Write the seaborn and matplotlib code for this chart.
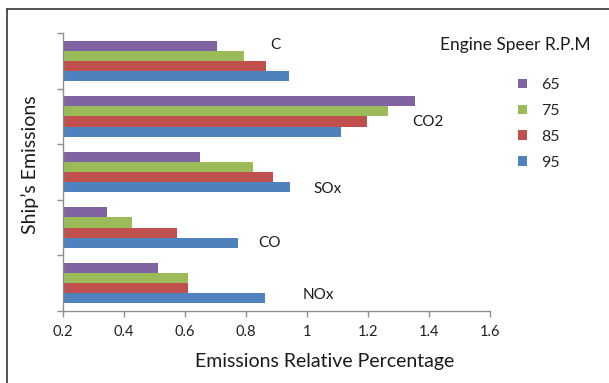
import matplotlib
matplotlib.use("Agg")
import matplotlib.pyplot as plt
import seaborn as sns
import pandas as pd
from matplotlib.patches import Patch
from matplotlib.lines import Line2D

categories = ["C", "CO2", "SOx", "CO", "NOx"]
rpm_labels = ["65", "75", "85", "95"]
rpm65 = [0.707, 1.354, 0.649, 0.346, 0.513]
rpm75 = [0.793, 1.267, 0.825, 0.428, 0.611]
rpm85 = [0.866, 1.197, 0.890, 0.576, 0.611]
rpm95 = [0.940, 1.112, 0.946, 0.773, 0.863]
colors = ["#8064A2", "#9BBB59", "#C0504D", "#4F81BD"]
xticks = [0.2, 0.4, 0.6, 0.8, 1.0, 1.2, 1.4, 1.6]
xtick_labels = ["0.2", "0.4", "0.6", "0.8", "1", "1.2", "1.4", "1.6"]
# label positions (data coords) for category annotations
label_x = [0.896, 1.397, 1.068, 0.879, 1.037]
label_dy = [-0.28, 0.1, 0.3, 0.28, 0.22]

rows = []
for r, vals in zip(rpm_labels, [rpm65, rpm75, rpm85, rpm95]):
    for c, v in zip(categories, vals):
        rows.append({"Emission": c, "RPM": r, "Value": v})
df = pd.DataFrame(rows)

sns.set_style("white")
plt.rcParams["font.family"] = ["Lato", "DejaVu Sans"]

fig = plt.figure(figsize=(6.09, 3.83), dpi=100)
ax = fig.add_axes([62.7 / 609, 1 - 311 / 383, (490 - 62.7) / 609, (311 - 33) / 383])

sns.barplot(data=df, y="Emission", x="Value", hue="RPM", order=categories,
            hue_order=rpm_labels, palette=colors, orient="h", width=0.73,
            ax=ax, legend=False, saturation=1, linewidth=0)

ax.set_xlim(0.2, 1.6)
ax.set_ylim(4.5, -0.5)
ax.set_xticks(xticks)
ax.set_xticklabels(xtick_labels, fontsize=10.5, color="#222222")
ax.set_yticks([-0.5, 0.5, 1.5, 2.5, 3.5, 4.5])
ax.set_yticklabels([])
ax.tick_params(axis="both", which="both", direction="out", length=4, width=1,
               color="#909090", left=True, bottom=True)
ax.tick_params(axis="x", pad=6)
for s in ["top", "right"]:
    ax.spines[s].set_visible(False)
for s in ["left", "bottom"]:
    ax.spines[s].set_color("#909090")
    ax.spines[s].set_linewidth(1)

ax.set_xlabel("Emissions Relative Percentage", fontsize=14, color="#1a1a1a")
ax.xaxis.set_label_coords((325 - 62.7) / (490 - 62.7), -(353 - 311) / (311 - 33))
ax.set_ylabel("Ship\u2019s Emissions", fontsize=14, color="#1a1a1a")
ax.yaxis.set_label_coords(-(62.7 - 39) / (490 - 62.7), (311 - 165) / (311 - 33))

for i, (c, lx, dy) in enumerate(zip(categories, label_x, label_dy)):
    ax.text(lx, i + dy, c, ha="center", va="center", fontsize=11, color="#1a1a1a")

handles = [Patch(facecolor=col, edgecolor="none") for col in colors]
fig.text(440 / 609, 1 - 45 / 383, "Engine Speer R.P.M", fontsize=12.5, color="#1a1a1a",
         ha="left", va="center")
leg = fig.legend(handles, rpm_labels, loc="upper left",
                 bbox_to_anchor=(510 / 609, 1 - 70 / 383), frameon=False,
                 fontsize=11.5, handlelength=0.55, handleheight=0.55,
                 handletextpad=0.9, labelspacing=0.75, borderpad=0)

# outer border (left and top edges visible)
fig.add_artist(Line2D([7 / 609, 7 / 609], [0, 1 - 9 / 383], transform=fig.transFigure,
                      color="#333333", linewidth=1.2))
fig.add_artist(Line2D([7 / 609, 1], [1 - 9 / 383, 1 - 9 / 383], transform=fig.transFigure,
                      color="#333333", linewidth=1.2))

fig.savefig("out.png", dpi=100)
